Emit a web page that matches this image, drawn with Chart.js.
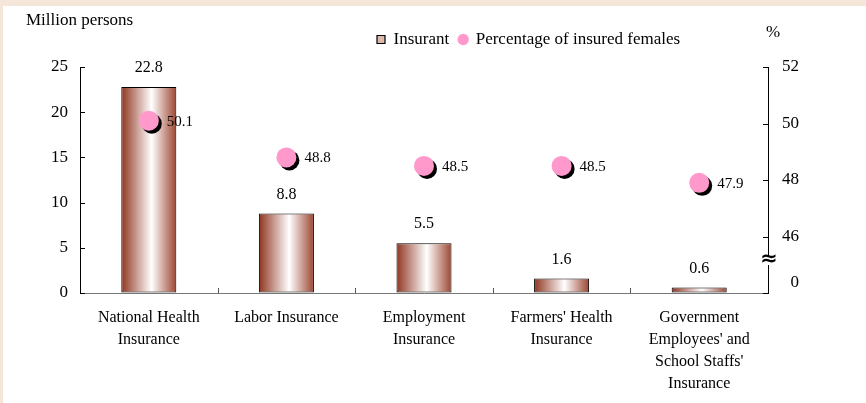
<!DOCTYPE html>
<html><head><meta charset="utf-8">
<script src="https://cdn.jsdelivr.net/npm/chart.js@4.4.0/dist/chart.umd.min.js"></script>
<style>
html,body{margin:0;padding:0;background:#f4e6d9;width:866px;height:403px;overflow:hidden;}
#wrap{position:absolute;left:3px;top:6px;width:863px;height:397px;background:#fff;}
</style></head><body>
<div id="wrap"><canvas id="c" width="863" height="397"></canvas></div>
<script>
const categories = [["National Health","Insurance"],["Labor Insurance"],["Employment","Insurance"],["Farmers' Health","Insurance"],["Government","Employees' and","School Staffs'","Insurance"]];
const insurant = [22.8, 8.8, 5.5, 1.6, 0.6];
const femalePct = [50.1, 48.8, 48.5, 48.5, 47.9];
const leftTicks = {min: 0, max: 25, step: 5};
const rightTicks = {min: 44, max: 52, step: 2};
const leftUnit = "Million persons";
const rightUnit = "%";
const rightZeroLabel = "0";
const seriesNames = ["Insurant", "Percentage of insured females"];

const FONT = "'Liberation Serif', 'Times New Roman', serif";
const PINK = '#ff99cc';
const BROWN = '#963a22';
const BAR_PCT = 0.4;

const shadowPlugin = {
  id: 'shadow',
  beforeDatasetDraw(chart, args) {
    if (args.index === 1) {
      const c = chart.ctx; c.save();
      c.shadowColor = '#000'; c.shadowOffsetX = 3; c.shadowOffsetY = 3; c.shadowBlur = 0;
    }
  },
  afterDatasetDraw(chart, args) { if (args.index === 1) chart.ctx.restore(); }
};

const legendShift = {
  id: 'legendShift',
  afterLayout(chart) {
    const L = chart.legend; if (!L) return;
    const w = L.right - L.left, h = L.bottom - L.top;
    L.left = 364; L.right = 364 + w;
    L.top = 15; L.bottom = 15 + h;
  }
};

const decor = {
  id: 'decor',
  afterDraw(chart) {
    const c = chart.ctx, ca = chart.chartArea;
    const x = chart.scales.x, y = chart.scales.y, y1 = chart.scales.y1;
    c.save();
    c.strokeStyle = '#000'; c.lineWidth = 1;
    y.ticks.forEach(t => { const py = Math.round(y.getPixelForValue(t.value)) + 0.5; c.beginPath(); c.moveTo(ca.left, py); c.lineTo(ca.left + 5, py); c.stroke(); });
    y1.ticks.forEach(t => { const py = Math.round(y1.getPixelForValue(t.value)) + 0.5; c.beginPath(); c.moveTo(ca.right - 5, py); c.lineTo(ca.right, py); c.stroke(); });
    c.strokeStyle = '#555';
    for (let i = 1; i < categories.length; i++) {
      const px = Math.round((x.getPixelForValue(i - 1) + x.getPixelForValue(i)) / 2) + 0.5;
      c.beginPath(); c.moveTo(px, ca.bottom); c.lineTo(px, ca.bottom - 5); c.stroke();
    }
    const by = y1.getPixelForValue(rightTicks.min) - 33;
    c.fillStyle = '#fff'; c.fillRect(ca.right - 6, by - 5, 12, 10);
    c.fillStyle = '#000'; c.font = "bold 21px 'DejaVu Sans'"; c.textAlign = 'center'; c.textBaseline = 'middle';
    c.fillText('\u2248', ca.right + 1, by);
    c.font = '17px ' + FONT; c.textAlign = 'right';
    c.fillText(rightZeroLabel, ca.right + 31, y1.getPixelForValue(rightTicks.min) - 10);
    c.textAlign = 'left';
    c.fillText(leftUnit, ca.left - 54, 15);
    c.fillText(rightUnit, ca.right - 2, 27);
    const m0 = chart.getDatasetMeta(0);
    c.textAlign = 'center'; c.font = '16px ' + FONT;
    m0.data.forEach((el, i) => c.fillText(insurant[i].toFixed(1), el.x, el.y - 19));
    const m1 = chart.getDatasetMeta(1);
    c.textAlign = 'left'; c.font = '15px ' + FONT;
    m1.data.forEach((el, i) => c.fillText(femalePct[i].toFixed(1), el.x + 18, el.y + 1));
    c.restore();
  }
};

new Chart(document.getElementById('c'), {
  data: {
    labels: categories,
    datasets: [
      {
        type: 'bar', label: seriesNames[0], data: insurant, yAxisID: 'y', order: 1,
        barPercentage: BAR_PCT, categoryPercentage: 1,
        borderColor: '#000', borderWidth: 1, borderSkipped: false,
        backgroundColor: (ctx) => {
          const chart = ctx.chart, ca = chart.chartArea;
          if (!ca || ctx.dataIndex === undefined) return BROWN;
          const cx = chart.scales.x.getPixelForValue(ctx.dataIndex);
          const w = (ca.right - ca.left) / categories.length * BAR_PCT;
          const g = chart.ctx.createLinearGradient(cx - w / 2, 0, cx + w / 2, 0);
          g.addColorStop(0, '#8f3520');
          g.addColorStop(0.55, '#ffffff');
          g.addColorStop(1, '#9c4632');
          return g;
        }
      },
      {
        type: 'line', label: seriesNames[1], data: femalePct, yAxisID: 'y1', order: 0,
        showLine: false, pointRadius: 10, pointHoverRadius: 10,
        pointBackgroundColor: PINK, pointBorderWidth: 0, borderColor: PINK, backgroundColor: PINK
      }
    ]
  },
  options: {
    responsive: false, animation: false,
    layout: {padding: {top: 24, left: 0, right: 0, bottom: 0}},
    plugins: {
      tooltip: {enabled: false},
      legend: {
        position: 'top', align: 'start',
        labels: {
          usePointStyle: true, boxWidth: 8, boxHeight: 8, padding: 10,
          color: '#000', font: {family: FONT, size: 17},
          generateLabels: () => [
            {text: seriesNames[0], fillStyle: '#dcb8ad', strokeStyle: '#000', lineWidth: 1.2, pointStyle: 'rect', hidden: false, datasetIndex: 0, fontColor: '#000'},
            {text: seriesNames[1], fillStyle: PINK, strokeStyle: PINK, lineWidth: 0, pointStyle: 'circle', hidden: false, datasetIndex: 1, fontColor: '#000'}
          ]
        }
      }
    },
    scales: {
      x: {
        offset: true,
        grid: {display: true, drawOnChartArea: false, drawTicks: false, offset: true, color: 'rgba(0,0,0,0)'},
        border: {display: true, color: '#777', width: 1},
        ticks: {color: '#000', font: {family: FONT, size: 16, lineHeight: 1.375}, padding: 14, maxRotation: 0, autoSkip: false},
        afterFit(s) { s.height = 110; }
      },
      y: {
        position: 'left', min: leftTicks.min, max: leftTicks.max,
        grid: {drawOnChartArea: false, drawTicks: false, color: 'rgba(0,0,0,0)'},
        border: {display: true, color: '#000', width: 1},
        ticks: {stepSize: leftTicks.step, color: '#000', font: {family: FONT, size: 17}, padding: 12},
        afterFit(s) { s.width = 77; }
      },
      y1: {
        position: 'right', min: rightTicks.min, max: rightTicks.max,
        grid: {drawOnChartArea: false, drawTicks: false, color: 'rgba(0,0,0,0)'},
        border: {display: true, color: '#000', width: 1},
        ticks: {stepSize: rightTicks.step, color: '#000', font: {family: FONT, size: 17}, padding: 14,
          callback: (v) => v === rightTicks.min ? '' : v},
        afterFit(s) { s.width = 98; }
      }
    }
  },
  plugins: [shadowPlugin, legendShift, decor]
});
</script>
</body></html>
